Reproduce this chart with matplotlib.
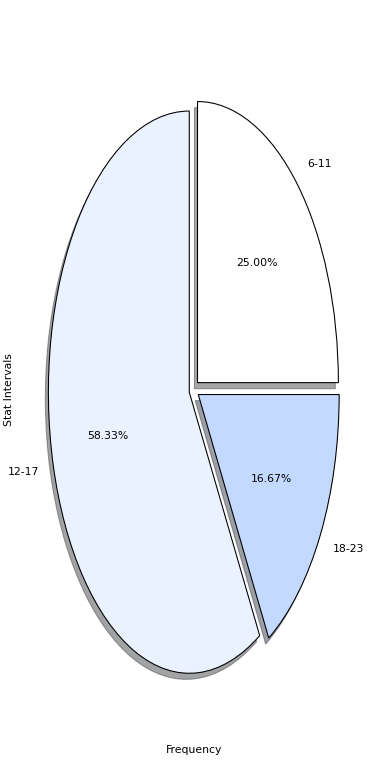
import matplotlib.pyplot as plt

# frequency per stat interval
intervals = ['6-11', '12-17', '18-23']
freq = [3, 7, 2]
colors = ['#ffffff', '#ebf2ff', '#c4d9ff']
explode = [0.035, 0.035, 0.035]

fig = plt.figure(figsize=(5, 10), dpi=78)
ax = fig.add_subplot(111)
ax.pie(freq, labels=intervals, colors=colors, explode=explode,
       autopct='%1.2f%%', shadow=True,
       wedgeprops={'edgecolor': 'black', 'linewidth': 1})
ax.set_aspect('auto')
ax.set_xlabel('Frequency')
ax.set_ylabel('Stat Intervals')
plt.subplots_adjust(left=0.046, right=0.949, top=0.951, bottom=0.05)
plt.savefig('out.png')
